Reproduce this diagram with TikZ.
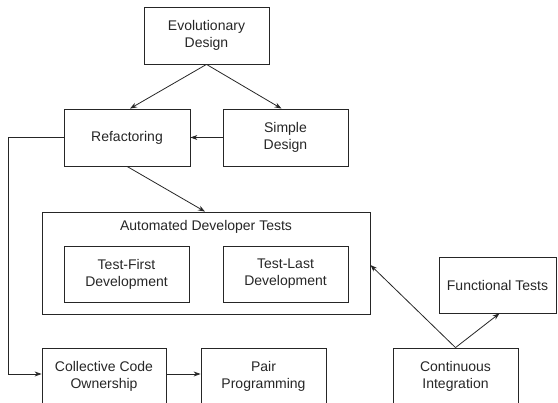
\documentclass[tikz,border=0pt]{standalone}
\usepackage{fontspec}
\setmainfont{Liberation Sans}
\usetikzlibrary{arrows.meta,calc}
\begin{document}
\begin{tikzpicture}[x=1pt,y=-1pt,
  box/.style={draw=black!85, line width=0.8pt, inner sep=0pt, align=center,
    font=\fontsize{14}{17}\selectfont, text=black!85},
  conn/.style={draw=black!85, line width=0.8pt, -{Stealth[length=7pt,width=5pt]}},
  lbl/.style={inner sep=0pt, font=\fontsize{14}{17}\selectfont, text=black!85}]
\useasboundingbox (0,0) rectangle (558,403);
\clip (0,0) rectangle (558,403);
\node[box, minimum width=125pt, minimum height=57pt] (evo) at (206.5,35.5) {Evolutionary\\Design};
\node[box, minimum width=126pt, minimum height=57pt] (refac) at (127,137.5) {Refactoring};
\node[box, minimum width=125pt, minimum height=57pt] (simple) at (285.5,137.5) {Simple\\Design};
\node[box, minimum width=328pt, minimum height=102pt] (adt) at (206,263) {};
\node[lbl] (adtt) at (206,227) {Automated Developer Tests};
\node[box, minimum width=125pt, minimum height=56pt] (tfd) at (126.5,274) {Test-First\\Development};
\node[box, minimum width=125pt, minimum height=56pt] (tld) at (285.5,274) {Test-Last\\Development};
\node[box, minimum width=117pt, minimum height=56pt] (ft) at (497.5,285) {Functional Tests};
\node[box, minimum width=124pt, minimum height=57pt] (cco) at (104,376.5) {Collective Code\\Ownership};
\node[box, minimum width=125pt, minimum height=57pt] (pp) at (263.5,376.5) {Pair\\Programming};
\node[box, minimum width=125pt, minimum height=57pt] (ci) at (455.5,376.5) {Continuous\\Integration};
\coordinate (c1) at (8,137.5);
\coordinate (c2) at (8,374);
\draw[conn] (evo.south) -- ($(refac.north)+(3,0)$);
\draw[conn] (evo.south) -- ($(simple.north)+(-4,0)$);
\draw[conn] (simple.west) -- (refac.east);
\draw[conn] (refac.south) -- ($(adt.north)+(-1,0)$);
\draw[conn] (refac.west) -- (c1) -- (c2) -- (c2 -| cco.west);
\draw[conn] (cco.east |- c2) -- (pp.west |- c2);
\draw[conn] (ci.north) -- (adt.east |- 0,265);
\draw[conn] (ci.north) -- ($(ft.south)+(2,0)$);
\end{tikzpicture}
\end{document}
